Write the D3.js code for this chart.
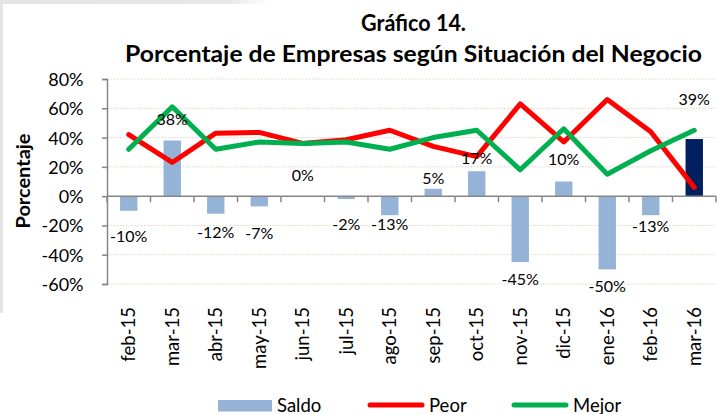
<!DOCTYPE html>
<html>
<head>
<meta charset="utf-8">
<script src="https://cdn.jsdelivr.net/npm/d3@7"></script>
<style>
  html, body { margin: 0; padding: 0; background: #fff; }
  svg { display: block; font-family: Lato, "Open Sans", sans-serif; }
</style>
</head>
<body>
<div id="chart"></div>
<script>
// data
const months = ["feb-15", "mar-15", "abr-15", "may-15", "jun-15", "jul-15", "ago-15",
                "sep-15", "oct-15", "nov-15", "dic-15", "ene-16", "feb-16", "mar-16"];
const saldo = [-10, 38, -12, -7, 0, -2, -13, 5, 17, -45, 10, -50, -13, 39];
const peor  = [42, 23, 43, 43.5, 36, 38.5, 45, 34, 27, 63, 37, 66, 44, 6];
const mejor = [32, 61, 32, 37, 36, 37, 32, 40, 45, 18, 46, 15, 31, 45];
const yTicks = [-60, -40, -20, 0, 20, 40, 60, 80];

const width = 726, height = 414;
const svg = d3.select("#chart").append("svg")
    .attr("width", width)
    .attr("height", height);

svg.append("rect").attr("width", width).attr("height", height).attr("fill", "#fff");

// faint grey frame left over from the screenshot (top-left)
const defs = svg.append("defs");
const fade = defs.append("linearGradient").attr("id", "fade");
fade.append("stop").attr("offset", "0%").attr("stop-color", "#e4e4e4");
fade.append("stop").attr("offset", "85%").attr("stop-color", "#e8e8e8");
fade.append("stop").attr("offset", "100%").attr("stop-color", "#fff");
svg.append("rect").attr("x", 0).attr("y", 0).attr("width", 270).attr("height", 4).attr("fill", "url(#fade)");
svg.append("rect").attr("x", 0).attr("y", 0).attr("width", 3).attr("height", 313).attr("fill", "#e4e4e4");

// scales
const x = d3.scaleBand().domain(months).range([107, 716]).padding(0);
const y = d3.scaleLinear().domain([-60, 80]).range([284, 79]);
const bw = x.bandwidth();
const cx = m => x(m) + bw / 2;

// gridlines
svg.append("g")
  .selectAll("line")
  .data(yTicks.filter(t => t !== 0))
  .join("line")
    .attr("x1", 108).attr("x2", 716)
    .attr("y1", d => y(d)).attr("y2", d => y(d))
    .attr("stroke", "#dcd8c2")
    .attr("stroke-width", 1)
    .attr("stroke-dasharray", "1.5,1.5");

// y axis
const yAxis = svg.append("g")
    .attr("transform", "translate(107,0)")
    .call(d3.axisLeft(y).tickValues(yTicks).tickSize(5).tickPadding(6).tickFormat(d => d + "%"));
yAxis.select(".domain").attr("stroke", "#868686").attr("stroke-width", 1.5);
yAxis.selectAll(".tick line").attr("stroke", "#868686").attr("stroke-width", 1.5);
yAxis.selectAll(".tick text")
    .attr("font-family", "Lato, sans-serif")
    .attr("font-size", 18)
    .attr("fill", "#000")
    .attr("x", -23.5)
    .attr("dy", "0.36em");

svg.append("text")
    .attr("transform", "translate(29.5,181) rotate(-90)")
    .attr("text-anchor", "middle")
    .attr("font-size", 19)
    .attr("font-weight", "bold")
    .attr("textLength", 95)
    .attr("lengthAdjust", "spacingAndGlyphs")
    .text("Porcentaje");

// bars
const barW = bw * 0.4;
svg.append("g")
  .selectAll("rect")
  .data(months.map((m, i) => ({ m, v: saldo[i], last: i === months.length - 1 })))
  .join("rect")
    .attr("x", d => cx(d.m) - barW / 2)
    .attr("width", barW)
    .attr("y", d => y(Math.max(0, d.v)))
    .attr("height", d => Math.abs(y(d.v) - y(0)))
    .attr("fill", d => d.last ? "#002060" : "#95b3d7");

// x axis (drawn over bars)
const x0 = y(0);
svg.append("line")
    .attr("x1", 107).attr("x2", 716)
    .attr("y1", x0).attr("y2", x0)
    .attr("stroke", "#868686").attr("stroke-width", 1.5);
svg.append("g")
  .selectAll("line")
  .data(months.map(m => x(m) + bw).concat([x(months[0])]))
  .join("line")
    .attr("x1", d => d).attr("x2", d => d)
    .attr("y1", x0).attr("y2", x0 + 6)
    .attr("stroke", "#868686").attr("stroke-width", 1.5);

svg.append("g")
  .selectAll("text")
  .data(months)
  .join("text")
    .attr("transform", d => `translate(${cx(d)},307) rotate(-90)`)
    .attr("text-anchor", "end")
    .attr("dy", "0.36em")
    .attr("font-size", 18.5)
    .text(d => d);

// lines
const line = d3.line().x(d => cx(d[0])).y(d => y(d[1]));
const series = [
  { name: "Peor", values: peor, color: "#ff0000" },
  { name: "Mejor", values: mejor, color: "#00b050" }
];
series.forEach(s => {
  svg.append("path")
      .datum(months.map((m, i) => [m, s.values[i]]))
      .attr("d", line)
      .attr("fill", "none")
      .attr("stroke", s.color)
      .attr("stroke-width", 5)
      .attr("stroke-linejoin", "round")
      .attr("stroke-linecap", "round");
});

// data labels, nudged off the bar ends as in the original
const labelShift = [25, -21, 19, 27, -21, 25, 9, -11, -13.5, 17, -22, 17, 11, -40];
svg.append("g")
  .selectAll("text")
  .data(months.map((m, i) => ({ m, v: saldo[i], dy: labelShift[i] })))
  .join("text")
    .attr("x", d => cx(d.m))
    .attr("y", d => y(d.v) + d.dy)
    .attr("dy", "0.36em")
    .attr("text-anchor", "middle")
    .attr("font-size", 16)
    .text(d => d.v + "%");

// title
svg.append("text")
    .attr("x", 413.5).attr("y", 30.5)
    .attr("text-anchor", "middle")
    .attr("font-size", 23)
    .attr("font-weight", "bold")
    .attr("textLength", 105)
    .attr("lengthAdjust", "spacingAndGlyphs")
    .text("Gráfico 14.");
svg.append("text")
    .attr("x", 413.5).attr("y", 62)
    .attr("text-anchor", "middle")
    .attr("font-size", 23)
    .attr("font-weight", "bold")
    .attr("textLength", 577)
    .attr("lengthAdjust", "spacingAndGlyphs")
    .text("Porcentaje de Empresas según Situación del Negocio");

// legend
const lg = svg.append("g").attr("font-size", 18.5);
lg.append("rect").attr("x", 218).attr("y", 400).attr("width", 54).attr("height", 11.5).attr("fill", "#95b3d7");
lg.append("text").attr("x", 277).attr("y", 411.5).text("Saldo");
[{ name: "Peor", color: "#ff0000", x1: 370 }, { name: "Mejor", color: "#00b050", x1: 514 }].forEach(d => {
  lg.append("line")
      .attr("x1", d.x1).attr("x2", d.x1 + 52)
      .attr("y1", 405).attr("y2", 405)
      .attr("stroke", d.color).attr("stroke-width", 5).attr("stroke-linecap", "round");
  lg.append("text").attr("x", d.x1 + 59).attr("y", 411.5).text(d.name);
});
</script>
</body>
</html>
